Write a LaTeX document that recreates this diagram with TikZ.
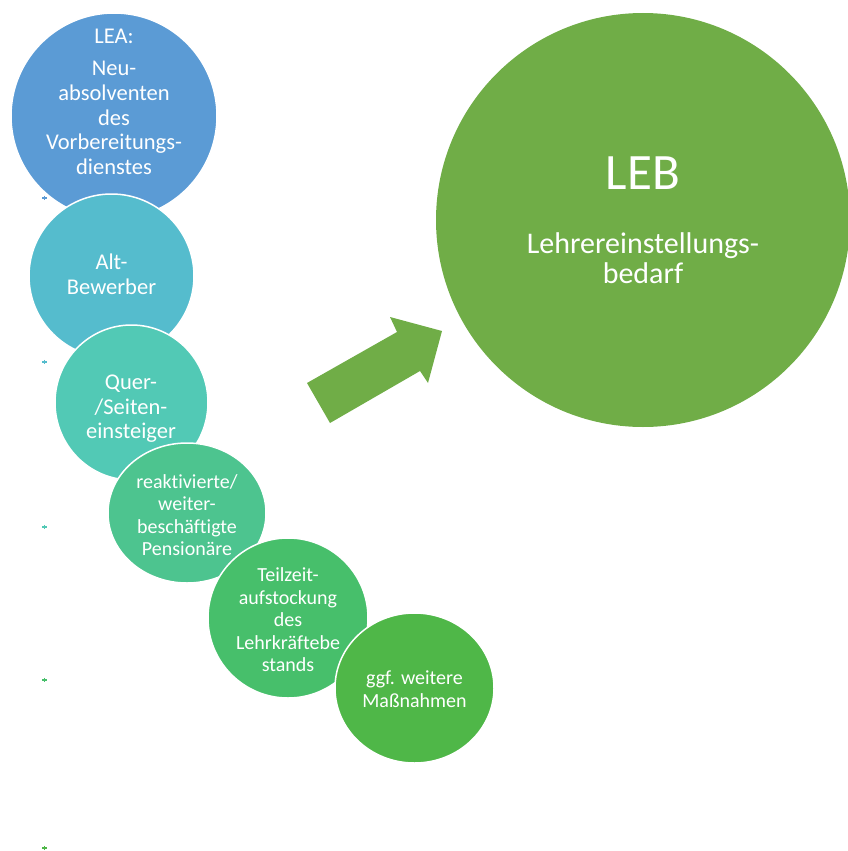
\documentclass[tikz,border=0pt]{standalone}
\usepackage{fontspec}
\setmainfont{Carlito}[Ligatures={NoCommon}]
\usetikzlibrary{shapes.geometric}
\definecolor{cBlue}{HTML}{5B9BD5}
\definecolor{cAlt}{HTML}{55BCCD}
\definecolor{cQuer}{HTML}{52C9B5}
\definecolor{cReak}{HTML}{4DC48F}
\definecolor{cTeil}{HTML}{47BF6B}
\definecolor{cGgf}{HTML}{4FB748}
\definecolor{cLeb}{HTML}{70AD47}
\begin{document}
\begin{tikzpicture}[x=1pt,y=1pt,
  disc/.style={ellipse, draw=white, line width=1.5pt, inner sep=0pt},
  lbl/.style={text=white, align=center, font=\fontsize{22.5}{24.6}\selectfont, inner sep=0pt},
  slbl/.style={lbl, font=\fontsize{20}{22.5}\selectfont},
  dotmark/.style={line width=1.3pt}
]
\useasboundingbox (0,0) rectangle (848,-851);
% big target circle
\node[disc, fill=cLeb, draw=none, minimum width=414pt, minimum height=414pt] (leb) at (643,-220) {};
\node[text=white, font=\fontsize{51}{53}\selectfont, inner sep=0pt] (lebt) at (643,-173) {LEB};
\node[lbl, font=\fontsize{30}{30}\selectfont] (lebs) at (643,-258) {Lehrereinstellungs-\\bedarf};
% block arrow
\fill[cLeb] (307,-383) -- (397,-332) -- (390,-317) -- (442,-331) -- (428,-383) -- (420,-371) -- (330,-423) -- cycle;
% chain of circles
\node[disc, fill=cBlue, minimum width=206pt, minimum height=206pt] (lea) at (114,-116) {};
\node[lbl] (leat) at (114,-36) {LEA:};
\node[lbl] (leab) at (114,-118) {Neu-\\absolventen\\des\\Vorbereitungs-\\dienstes};
\node[disc, fill=cAlt, minimum width=165pt, minimum height=164pt] (alt) at (111.5,-276) {};
\node[lbl] (altt) at (111.5,-274) {Alt-\\Bewerber};
\node[disc, fill=cQuer, minimum width=153pt, minimum height=155pt] (quer) at (131.5,-402.5) {};
\node[lbl] (quert) at (131,-409) {Quer-\\/Seiten-\\einsteiger};
\node[disc, fill=cReak, minimum width=158pt, minimum height=140pt] (reak) at (187,-513) {};
\node[slbl] (reakt) at (187,-515) {reaktivierte/\\weiter-\\beschäftigte\\Pensionäre};
\node[disc, fill=cTeil, minimum width=160pt, minimum height=160pt] (teil) at (288,-618) {};
\node[slbl] (teilt) at (288,-620) {Teilzeit-\\aufstockung\\des\\Lehrkräftebe\\stands};
\node[disc, fill=cGgf, minimum width=159pt, minimum height=150pt] (ggf) at (414.5,-688) {};
\node[slbl] (ggft) at (414.5,-689) {ggf. weitere\\Maßnahmen};
% small bullet marks
\foreach \yy/\cc in {198/cBlue,362/cAlt,527/cQuer,680/cTeil,848/cGgf}{
  \draw[dotmark, \cc] (42,-\yy) -- (46.5,-\yy) (44.25,-\yy+2.25) -- (44.25,-\yy-2.25);
}
\end{tikzpicture}
\end{document}
